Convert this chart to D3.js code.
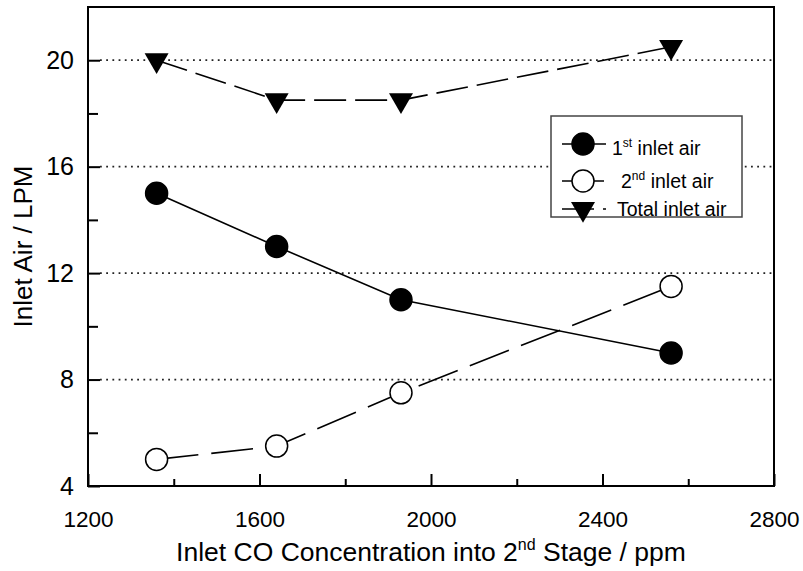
<!DOCTYPE html>
<html>
<head>
<meta charset="utf-8">
<script src="https://cdn.jsdelivr.net/npm/d3@7"></script>
<style>
  body { margin: 0; background: #fff; }
  text { font-family: "Liberation Sans", Arial, Helvetica, sans-serif; fill: #000; }
</style>
</head>
<body>
<svg id="chart" width="803" height="571"></svg>
<script>
// Inlet CO concentration (ppm) and the measured air flows (LPM)
const concentration = [1360, 1640, 1930, 2560];
const firstInletAir = [15, 13, 11, 9];
const secondInletAir = [5, 5.5, 7.5, 11.5];
const totalInletAir = [20, 18.5, 18.5, 20.5];

const xMajorTicks = [1200, 1600, 2000, 2400, 2800];
const xMinorTicks = [1400, 1800, 2200, 2600];
const yMajorTicks = [4, 8, 12, 16, 20];
const yMinorTicks = [6, 10, 14, 18];
const gridLevels = [8, 12, 16, 20];

const svg = d3.select("#chart");
const plot = { left: 88, right: 774, top: 7, bottom: 486 };

const x = d3.scaleLinear().domain([1200, 2800]).range([plot.left, plot.right]);
const y = d3.scaleLinear().domain([4, 22]).range([plot.bottom, plot.top]);

// dotted horizontal guides
svg.append("g").selectAll("line").data(gridLevels).join("line")
  .attr("x1", plot.left + 12).attr("x2", plot.right)
  .attr("y1", d => y(d)).attr("y2", d => y(d))
  .attr("stroke", "#222").attr("stroke-width", 1.8)
  .attr("stroke-dasharray", "1.8,4.4");

// axes with inward ticks
function styleAxis(g) {
  g.select(".domain").remove();
  g.selectAll(".tick line").attr("stroke", "#000").attr("stroke-width", 2);
}
svg.append("g").attr("transform", `translate(0,${plot.bottom})`)
  .call(d3.axisBottom(x).tickValues(xMajorTicks).tickSizeInner(-12).tickSizeOuter(0)
    .tickPadding(25).tickFormat(d3.format("d")))
  .call(styleAxis)
  .call(g => g.selectAll("text").attr("font-size", 22.5).attr("font-family", null));
svg.append("g").attr("transform", `translate(0,${plot.bottom})`)
  .call(d3.axisBottom(x).tickValues(xMinorTicks).tickSizeInner(-7).tickSizeOuter(0).tickFormat(""))
  .call(styleAxis);
svg.append("g").attr("transform", `translate(${plot.left},0)`)
  .call(d3.axisLeft(y).tickValues(yMajorTicks).tickSizeInner(-12).tickSizeOuter(0)
    .tickPadding(14).tickFormat(d3.format("d")))
  .call(styleAxis)
  .call(g => g.selectAll("text").attr("font-size", 25).attr("font-family", null));
svg.append("g").attr("transform", `translate(${plot.left},0)`)
  .call(d3.axisLeft(y).tickValues(yMinorTicks).tickSizeInner(-10).tickSizeOuter(0).tickFormat(""))
  .call(styleAxis);

// series
const series = [
  { name: "first", values: firstInletAir, dash: null, marker: "filled" },
  { name: "second", values: secondInletAir, dash: "42,13", marker: "open" },
  { name: "total", values: totalInletAir, dash: "32,9", marker: "triangle" }
];

const line = d3.line().x(d => x(d[0])).y(d => y(d[1]));
const triangle = d3.symbol(d3.symbolTriangle, 249);

function drawMarker(g, kind) {
  if (kind === "triangle") {
    g.append("path").attr("d", triangle()).attr("transform", "rotate(180)")
      .attr("fill", "#000");
  } else {
    g.append("circle").attr("r", 11)
      .attr("fill", kind === "filled" ? "#000" : "#fff")
      .attr("stroke", "#000").attr("stroke-width", 1.5);
  }
}

series.forEach(s => {
  const pts = concentration.map((c, i) => [c, s.values[i]]);
  svg.append("path").attr("d", line(pts))
    .attr("fill", "none").attr("stroke", "#000").attr("stroke-width", 1.6)
    .attr("stroke-dasharray", s.dash);
  pts.forEach(p => {
    const g = svg.append("g").attr("transform", `translate(${x(p[0])},${y(p[1])})`);
    drawMarker(g, s.marker);
  });
});

// legend
const legend = svg.append("g");
legend.append("rect").attr("x", 551).attr("y", 116).attr("width", 191).attr("height", 101)
  .attr("fill", "#fff").attr("stroke", "#444").attr("stroke-width", 1.5);
const legendRows = [
  { s: series[0], cy: 144, tx: 612, ty: 155, parts: ["1", "st", " inlet air"] },
  { s: series[1], cy: 181, tx: 621, ty: 188, parts: ["2", "nd", " inlet air"] },
  { s: series[2], cy: 209, tx: 617, ty: 216, parts: ["Total inlet air"] }
];
legendRows.forEach(r => {
  legend.append("line").attr("x1", 562).attr("x2", 606).attr("y1", r.cy).attr("y2", r.cy)
    .attr("stroke", "#000").attr("stroke-width", 1.6).attr("stroke-dasharray", r.s.dash);
  drawMarker(legend.append("g").attr("transform", `translate(583,${r.cy})`), r.s.marker);
  const t = legend.append("text").attr("x", r.tx).attr("y", r.ty).attr("font-size", 19.5);
  if (r.parts.length === 1) {
    t.text(r.parts[0]);
  } else {
    t.append("tspan").text(r.parts[0]);
    t.append("tspan").attr("font-size", 12).attr("dy", -8).text(r.parts[1]);
    t.append("tspan").attr("dy", 8).text(r.parts[2]);
  }
});

// plot frame
svg.append("rect").attr("x", plot.left).attr("y", plot.top)
  .attr("width", plot.right - plot.left).attr("height", plot.bottom - plot.top)
  .attr("fill", "none").attr("stroke", "#000").attr("stroke-width", 2);

// axis titles
const xTitle = svg.append("text").attr("x", (plot.left + plot.right) / 2).attr("y", 561)
  .attr("text-anchor", "middle").attr("font-size", 26.5);
xTitle.append("tspan").text("Inlet CO Concentration into 2");
xTitle.append("tspan").attr("font-size", 16).attr("dy", -11).text("nd");
xTitle.append("tspan").attr("dy", 11).text(" Stage / ppm");

svg.append("text")
  .attr("transform", `translate(32,${(plot.top + plot.bottom) / 2}) rotate(-90)`)
  .attr("text-anchor", "middle").attr("font-size", 26)
  .text("Inlet Air / LPM");
</script>
</body>
</html>
